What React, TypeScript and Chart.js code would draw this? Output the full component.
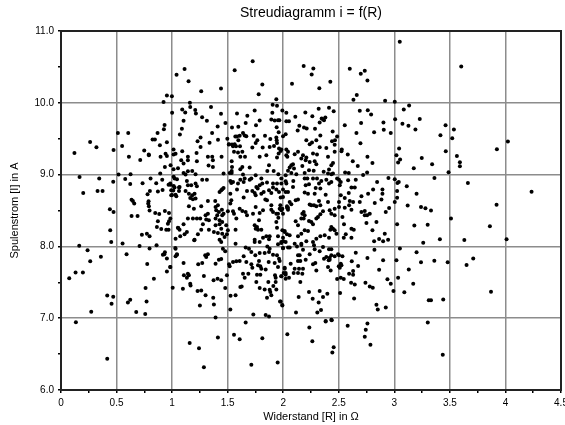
import React, { useEffect, useRef } from "react";
import { Chart, registerables } from "chart.js";

Chart.register(...registerables);

const chartTitle = "Streudiagramm i = f(R)";
const xTitle = "Widerstand [R] in Ω";
const yTitle = "Spulenstrom [I] in A";
const yTickLabels = ["6.0", "7.0", "8.0", "9.0", "10.0", "11.0"];

// [R, i] pairs
const messwerte: [number, number][] = [
[1.112,10.47],[1.04,10.39],[1.148,10.3],[1.262,10.16],[1.44,10.2],[.953,10.1],[.998,10.09],[.923,10.01],[1.16,10.0],[1.163,9.94],[1.091,9.906],[1.118,9.865],[1.208,9.9],[1.214,9.85],[1.35,9.94],[1.44,9.846],[1.0,9.86],[1.27,9.8],[1.313,9.75],[1.103,9.75],[.932,9.69],[.926,9.63],[1.088,9.64],[.869,9.58],[1.07,9.56],[.512,9.58],[.605,9.58],[1.48,9.72],[1.41,9.67],[1.36,9.58],[.824,9.49],[.845,9.49],[.953,9.45],[.89,9.41],[1.256,9.515],[1.229,9.465],[1.256,9.385],[1.337,9.445],[1.413,9.487],[1.497,9.5],[1.51,9.42],[.262,9.455],[.319,9.38],[.473,9.344],[.55,9.4],[.121,9.3],[.749,9.335],[.79,9.28],[.941,9.29],[1.013,9.35],[1.013,9.28],[1.031,9.29],[1.091,9.325],[1.22,9.3],
[.611,9.247],[.791,9.27],[.713,9.205],[.896,9.247],[.953,9.26],[.986,9.13],[.935,9.107],[1.053,9.09],[.893,9.015],[.167,8.968],[.344,8.945],[.518,9.0],[.626,9.005],[.47,8.9],[.578,8.94],[.623,8.87],[.734,8.88],[.806,8.945],[.857,8.88],[.911,8.93],[1.014,8.97],[1.044,8.935],[.2,8.745],[.329,8.773],[.374,8.773],[.968,8.86],[.986,8.86],[1.014,8.84],[1.062,8.82],[.8,8.773],[.779,8.726],[.872,8.763],[.914,8.786],[1.01,8.78],[1.0,8.717],[1.038,8.7],[1.062,8.773],[.635,8.65],[.647,8.633],[.659,8.596],[.788,8.63],[.785,8.596],[.791,8.56],[.797,8.5],[.44,8.517],[.473,8.48],[.848,8.466],[.884,8.452],[.935,8.494],[.972,8.466],[.984,8.39],[.635,8.424],[.689,8.424],[.872,8.35],[.972,8.35],[.962,8.317],[.863,8.27],[.902,8.242],[.947,8.233],[.968,8.233],[1.056,8.256],[.443,8.224],[.728,8.163],[.773,8.177],[.797,8.14],[1.031,8.107],
[.164,8.01],[.452,8.06],[.554,8.04],[.707,8.006],[.86,8.015],[1.029,7.978],[.239,7.945],[.797,7.97],[.59,7.89],[.359,7.857],[.263,7.792],[.917,7.885],[.935,7.918],[.93,7.89],[.953,7.83],[1.044,7.885],[1.031,7.862],[.776,7.755],[.984,7.713],[.953,7.652],[.131,7.638],[.197,7.638],[.074,7.555],[.836,7.55],[.761,7.42],[1.005,7.425],[.416,7.317],[.47,7.3],[.455,7.2],[.623,7.257],[.602,7.22],[.77,7.234],[.272,7.09],[.677,7.085],[.758,7.057],[.134,6.945],[.416,6.435],[1.158,6.653],[1.242,6.583],
[1.286,6.318],[1.412,6.732],[1.557,6.769],[1.608,6.708],[1.713,6.35],[1.812,6.722],[1.95,6.383],[2.037,6.778],[2.235,6.871],[2.262,6.68],[2.382,6.955],[2.437,6.97],[2.58,6.895],[2.758,6.927],[2.743,6.839],[2.734,6.741],[2.785,6.63],[2.454,6.597],[2.442,6.522],[3.436,6.49],[3.301,6.94],[1.662,6.94],
[1.725,10.58],[1.563,10.455],[1.812,10.255],[1.779,10.12],[1.938,10.05],[1.905,9.972],[1.944,9.958],[1.584,9.85],[1.677,9.818],[1.743,9.893],[1.662,9.72],[1.788,9.753],[1.755,9.688],[1.539,9.655],[1.596,9.665],[1.902,9.86],[1.992,9.893],[2.028,9.86],[1.893,9.767],[1.923,9.753],[1.953,9.758],[1.965,9.758],[2.028,9.744],[2.052,9.744],[1.941,9.66],[1.959,9.59],[2.022,9.563],[1.836,9.54],[1.734,9.54],[1.638,9.58],[1.653,9.544],[1.668,9.535],[1.569,9.53],[1.584,9.53],[1.608,9.54],[1.596,9.479],[1.512,9.423],[1.539,9.418],[1.563,9.423],[1.548,9.395],[1.575,9.395],[1.611,9.395],[1.722,9.376],[1.767,9.479],[1.752,9.44],[1.815,9.376],[1.878,9.386],[1.884,9.497],[1.917,9.4],[1.938,9.516],[1.941,9.479],[1.998,9.535],[1.962,9.362],[1.983,9.348],[1.944,9.44],
[1.142,9.247],[1.082,9.2],[1.103,9.154],[1.142,9.2],[1.223,9.187],[1.322,9.247],[1.361,9.247],[1.367,9.2],[1.328,9.126],[1.367,9.107],[1.445,9.247],[1.557,9.317],[1.593,9.307],[1.632,9.317],[1.614,9.247],[1.656,9.247],[1.536,9.187],[1.788,9.247],[1.848,9.27],[1.959,9.293],[1.977,9.33],[1.944,9.238],[2.037,9.247],[1.872,9.13],[1.539,9.107],[1.536,9.05],[1.632,9.107],[1.614,9.075],[1.698,9.098],[1.013,9.075],[1.103,9.024],[1.121,9.0],[1.142,9.047],[1.181,9.05],[1.211,9.005],[1.463,9.015],[1.518,9.024],[1.536,9.024],[1.752,8.99],[1.857,9.05],[1.914,9.05],[1.956,9.005],[2.022,8.99],[1.638,9.0],[1.022,8.945],[.983,8.875],[1.067,8.828],[1.133,8.912],[1.022,8.82],[1.121,8.773],[1.142,8.85],[1.172,8.85],[1.211,8.875],[1.223,8.838],[1.271,8.93],[1.313,8.93],[1.524,8.912],[1.548,8.898],[1.533,8.884],[1.593,8.875],[1.614,8.93],[1.653,8.945],[1.698,8.93],[1.713,8.945],[1.644,8.898],[1.803,8.945],[1.758,8.828],[1.812,8.875],[1.854,8.889],[1.908,8.875],[1.944,8.875],[1.983,8.945],[1.983,8.875],[2.022,8.907],[.992,8.782],[.992,8.712],[1.031,8.72],[1.151,8.735],[1.181,8.712],[1.202,8.735],[1.211,8.666],[1.163,8.675],[1.187,8.656],[1.427,8.759],[1.463,8.815],[1.442,8.782],[1.451,8.796],[1.584,8.791],[1.674,8.773],[1.722,8.773],[1.77,8.805],[1.788,8.852],[1.743,8.745],[1.752,8.712],[1.803,8.735],[1.824,8.759],[1.872,8.782],[1.893,8.745],[1.908,8.82],[1.938,8.791],[1.962,8.759],[1.998,8.791],[2.043,8.759],[1.977,8.68],[1.524,8.735],[1.533,8.642],[1.524,8.596],[1.322,8.633],[1.388,8.633],[1.644,8.68],[1.839,8.652],[1.854,8.642],[1.151,8.558],[1.196,8.526],[1.262,8.558],[1.391,8.55],[1.412,8.573],[1.397,8.503],[1.421,8.48],[1.448,8.512],[1.463,8.456],[1.451,8.433],[1.406,8.433],[1.502,8.489],[1.548,8.489],[1.557,8.456],[1.578,8.387],[1.608,8.526],[1.632,8.493],[1.662,8.48],[1.674,8.433],[1.728,8.456],[1.788,8.466],[1.752,8.55],[1.818,8.503],[1.893,8.512],[1.908,8.48],[1.893,8.573],[1.974,8.573],[1.968,8.526],[1.983,8.503],[1.953,8.456],[1.938,8.456],[1.998,8.456],[2.034,8.54],[2.043,8.512],[1.187,8.387],[1.223,8.387],[1.253,8.387],[1.301,8.433],[1.322,8.456],[1.307,8.373],[1.331,8.363],[1.391,8.387],[1.451,8.34],[1.427,8.363],[1.142,8.387],[1.782,8.363],[1.956,8.4],[1.938,8.34],[1.103,8.307],[1.052,8.26],[1.067,8.233],[1.112,8.168],[1.073,8.14],[1.277,8.307],[1.262,8.233],[1.232,8.168],[1.202,8.093],[1.133,8.2],[1.391,8.293],[1.331,8.233],[1.376,8.2],[1.427,8.307],[1.442,8.247],[1.412,8.187],[1.487,8.293],[1.502,8.224],[1.451,8.177],[1.571,8.233],[1.743,8.293],[1.752,8.247],[1.773,8.233],[1.803,8.233],[1.764,8.27],[1.944,8.26],[2.013,8.214],[2.034,8.168],[1.848,8.14],[1.878,8.14],[1.818,8.12],[1.872,8.098],[1.953,8.14],[1.998,8.12],[1.493,8.168],[1.472,8.13],[1.743,8.093],[1.427,8.093],
[1.031,7.969],[1.043,7.89],[1.103,7.769],[.983,7.713],[1.298,7.876],[1.322,7.89],[1.307,7.852],[1.421,7.815],[1.442,7.825],[1.391,7.76],[1.235,7.75],[1.271,7.769],[1.442,8.062],[1.457,7.969],[1.478,7.932],[1.199,8.085],[1.571,8.038],[1.662,7.983],[1.692,7.969],[1.713,7.922],[1.644,7.862],[1.749,7.876],[1.788,7.908],[1.833,7.908],[1.872,7.922],[1.857,8.0],[1.878,7.969],[1.908,7.885],[1.944,7.876],[1.962,7.829],[1.968,7.797],[1.788,8.062],[1.743,8.062],[1.953,8.029],[1.983,8.062],[1.998,7.978],[2.043,7.983],[1.512,7.75],[1.518,7.722],[1.548,7.783],[1.578,7.792],[1.608,7.797],[1.668,7.783],[1.713,7.75],[1.722,7.704],[1.782,7.797],[1.773,7.736],[1.794,7.722],[1.803,7.69],[1.842,7.68],[1.869,7.783],[1.923,7.769],[1.953,7.713],[2.013,7.69],[1.106,7.597],[1.142,7.62],[1.151,7.597],[1.133,7.564],[1.286,7.587],[1.493,7.597],[1.638,7.62],[1.653,7.564],[1.686,7.62],[1.764,7.606],[1.794,7.606],[1.926,7.597],[1.932,7.564],[1.983,7.583],[2.022,7.629],[2.052,7.564],[1.373,7.527],[1.409,7.55],[1.442,7.527],[1.758,7.504],[1.866,7.504],[1.932,7.504],[1.163,7.48],[1.166,7.457],[1.097,7.41],[1.478,7.42],[1.626,7.443],[1.614,7.434],[1.788,7.42],[1.833,7.4],[1.878,7.397],[1.884,7.364],[1.911,7.448],[1.938,7.4],[1.229,7.378],[1.262,7.387],[1.301,7.318],[1.37,7.285],[1.376,7.192],[1.25,7.178],[1.526,7.313],[1.571,7.318],[1.854,7.285],[1.893,7.318],[1.971,7.234],[1.992,7.178],[1.524,7.122],[1.731,7.052],[1.842,7.043],[1.872,7.025],[1.391,7.01],
[2.184,10.511],[2.271,10.479],[2.256,10.395],[2.079,10.265],[2.325,10.204],[2.424,10.293],[2.599,10.474],[2.698,10.404],[2.734,10.446],[2.758,10.311],[2.662,10.107],[2.632,10.041],[2.917,10.027],[3.004,10.014],[2.319,9.916],[2.412,9.93],[2.454,9.883],[2.199,9.865],[2.262,9.814],[2.109,9.804],[2.689,9.888],[2.761,9.897],[2.791,9.837],[2.379,9.795],[2.358,9.772],[2.346,9.781],[2.367,9.758],[2.328,9.725],[2.145,9.679],[2.187,9.655],[2.211,9.642],[2.13,9.614],[2.286,9.637],[2.445,9.6],[2.334,9.544],[2.485,9.53],[2.554,9.688],[2.701,9.72],[2.902,9.725],[3.007,9.772],[2.905,9.623],[2.968,9.581],[2.818,9.59],[2.659,9.581],[2.695,9.437],[2.208,9.479],[2.439,9.465],[2.466,9.479],[2.298,9.479],[2.238,9.423],[2.259,9.446],[2.463,9.414],[2.328,9.381],[2.388,9.372],[2.527,9.348],[3.043,9.362],[2.028,9.348],
[2.028,9.27],[2.043,9.317],[2.103,9.284],[2.133,9.317],[2.178,9.27],[2.208,9.238],[2.268,9.293],[2.304,9.28],[2.202,9.2],[2.163,9.224],[2.172,9.121],[2.238,9.177],[2.283,9.187],[2.298,9.145],[2.403,9.247],[2.448,9.163],[2.433,9.131],[2.463,9.317],[2.524,9.326],[2.581,9.28],[2.626,9.187],[2.758,9.247],[2.803,9.163],[2.671,9.121],[3.034,9.168],[2.088,9.145],[2.073,9.13],[2.058,9.098],[2.097,9.084],[2.043,9.052],[2.274,9.052],[2.232,9.061],[2.412,9.07],[2.403,9.014],[2.073,9.024],[2.118,9.005],[2.193,9.024],[2.364,9.038],[2.433,9.005],[2.448,9.014],[2.557,9.028],[2.59,9.024],[2.719,8.996],[2.755,9.028],[2.091,8.912],[2.028,8.875],[2.022,8.759],[2.193,8.945],[2.217,8.945],[2.202,8.852],[2.232,8.866],[2.268,8.945],[2.088,8.828],[2.322,8.875],[2.343,8.912],[2.304,8.945],[2.292,8.814],[2.412,8.875],[2.433,8.898],[2.388,8.93],[2.485,8.945],[2.509,8.852],[2.518,8.898],[2.502,8.93],[2.584,8.921],[2.653,8.93],[2.614,8.819],[2.644,8.819],[2.59,8.745],[2.704,8.698],[2.764,8.735],[2.809,8.791],[2.845,8.898],[2.947,8.954],[3.004,8.935],[3.04,8.898],[2.893,8.791],[2.893,8.735],[3.025,8.773],[2.193,8.749],[2.223,8.735],[2.283,8.735],[2.334,8.805],[2.382,8.721],[2.518,8.712],[1.998,8.689],[2.133,8.652],[2.112,8.642],[2.058,8.619],[2.073,8.587],[2.043,8.54],[1.992,8.526],[2.034,8.559],[2.238,8.582],[2.253,8.573],[2.277,8.573],[2.298,8.559],[2.322,8.633],[2.403,8.619],[2.334,8.573],[2.502,8.619],[2.554,8.675],[2.599,8.633],[2.629,8.619],[2.689,8.619],[2.593,8.573],[2.614,8.512],[2.463,8.526],[2.502,8.55],[2.554,8.54],[2.824,8.605],[2.884,8.652],[3.004,8.619],[2.953,8.535],[2.923,8.48],[2.704,8.48],[2.734,8.494],[2.734,8.433],[2.755,8.433],[2.779,8.456],[2.418,8.503],[2.433,8.456],[2.463,8.433],[2.358,8.489],[2.334,8.447],[2.313,8.41],[2.184,8.48],[2.172,8.456],[2.193,8.433],[2.163,8.387],[2.184,8.387],[2.112,8.349],[2.133,8.293],[2.232,8.354],[2.253,8.34],[2.268,8.307],[2.433,8.27],[2.448,8.247],[2.424,8.233],[2.463,8.224],[2.298,8.387],[2.533,8.41],[2.547,8.307],[2.614,8.247],[2.635,8.233],[2.749,8.326],[2.839,8.34],[2.803,8.224],[2.914,8.177],[3.025,8.307],[2.223,8.214],[2.193,8.224],[2.163,8.177],[2.133,8.14],[2.058,8.154],[2.013,8.2],[1.992,8.224],[2.334,8.14],[2.373,8.154],[2.298,8.107],[2.412,8.121],[2.479,8.177],[2.563,8.168],[2.545,8.121],[2.614,8.121],[2.863,8.103],[2.944,8.094],
[2.0,8.07],[1.983,8.048],[2.022,8.062],[2.103,8.038],[2.163,8.038],[2.208,8.071],[2.268,8.062],[2.277,8.015],[1.998,7.973],[2.058,7.983],[2.124,8.0],[2.163,8.02],[2.358,7.992],[2.412,7.959],[2.433,7.959],[2.178,7.955],[2.283,7.959],[2.328,7.932],[2.818,8.071],[2.899,8.071],[2.821,7.955],[2.653,7.913],[2.238,7.89],[2.133,7.876],[2.148,7.876],[2.367,7.829],[2.388,7.852],[2.418,7.843],[2.433,7.876],[2.463,7.862],[2.493,7.89],[2.502,7.876],[2.533,7.862],[2.758,7.838],[2.202,7.815],[2.154,7.797],[2.133,7.797],[2.409,7.806],[2.418,7.815],[2.617,7.792],[2.899,7.806],[3.019,7.806],[2.067,7.76],[2.268,7.75],[2.289,7.769],[2.403,7.713],[2.427,7.666],[2.5,7.722],[2.518,7.76],[2.509,7.704],[2.524,7.736],[2.674,7.727],[2.863,7.676],[2.013,7.704],[2.103,7.69],[2.142,7.69],[2.178,7.69],[2.298,7.666],[2.094,7.629],[2.133,7.629],[2.172,7.62],[2.004,7.629],[2.593,7.62],[2.629,7.657],[2.629,7.606],[1.983,7.583],[2.022,7.55],[2.022,7.606],[2.485,7.545],[2.518,7.564],[2.545,7.545],[3.034,7.564],[2.154,7.504],[2.938,7.541],[2.968,7.48],[2.992,7.378],[2.74,7.494],[2.779,7.443],[2.806,7.425],[2.611,7.494],[2.644,7.471],[2.232,7.364],[2.328,7.378],[2.397,7.341],[2.139,7.294],[2.512,7.35],[2.358,7.294],[2.265,7.271],[2.319,7.22],[2.638,7.276],[2.839,7.187],[2.851,7.122],[2.923,7.15],[1.977,7.234],[1.992,7.183],[2.115,7.08],[2.307,7.08],[2.34,7.113],[2.382,6.96],[2.433,6.978],
[3.049,10.851],[3.602,10.507],[3.133,9.962],[3.085,9.906],[3.229,9.776],[3.073,9.707],[3.127,9.679],[3.19,9.627],[3.461,9.688],[3.536,9.627],[3.415,9.548],[3.521,9.506],[3.019,9.269],[3.052,9.209],[3.175,9.088],[3.247,9.232],[3.34,9.144],[3.463,9.325],[3.563,9.26],[3.59,9.172],[3.59,9.116],[3.488,9.032],[3.361,8.953],[3.662,8.883],[3.923,9.353],[4.022,9.46],[4.235,8.762],[3.028,8.883],[3.112,8.837],[3.2,8.735],[3.025,8.679],
[3.12,8.57],[3.24,8.55],[3.28,8.53],[3.33,8.5],[3.51,8.39],[3.44,7.26],[3.31,7.25],[3.33,7.25],[3.36,7.8],[3.48,7.78],[3.63,8.09],[3.65,7.74],[3.71,7.83],[3.86,8.28],[3.92,8.58],[3.87,7.37],[4.01,8.1],[3.24,7.78],[3.2,7.92],[3.18,8.29],[3.05,7.97],[3.13,7.68],[3.17,7.48],[3.09,7.36],[3.3,8.3],[3.41,8.1],[3.26,8.05],
];

export default function App() {
  const ref = useRef<HTMLCanvasElement>(null);
  useEffect(() => {
    if (!ref.current) return;
    const frame = {
      id: "frame",
      afterDatasetsDraw(c: any) {
        const { ctx, chartArea: a } = c;
        ctx.save();
        ctx.strokeStyle = "#222";
        ctx.lineWidth = 2;
        ctx.strokeRect(a.left, a.top, a.right - a.left, a.bottom - a.top);
        ctx.restore();
      },
    };
    const font = { family: "'Liberation Sans', Arial, sans-serif", size: 10 };
    const chart = new Chart(ref.current, {
      type: "scatter",
      data: {
        datasets: [
          {
            data: messwerte.map(([x, y]) => ({ x, y })),
            backgroundColor: "#000",
            borderWidth: 0,
            pointRadius: 2,
            clip: false,
          } as any,
        ],
      },
      options: {
        animation: false,
        responsive: false,
        layout: { autoPadding: false, padding: { left: 0, right: 4, top: 0, bottom: 0 } },
        plugins: {
          legend: { display: false },
          tooltip: { enabled: false },
          title: {
            display: true,
            fullSize: false,
            text: chartTitle,
            color: "#000",
            font: { family: font.family, size: 14, weight: "normal" },
            padding: { top: 5, bottom: 9.2 },
          },
        },
        scales: {
          x: {
            type: "linear",
            min: 0,
            max: 4.5,
            afterFit: (s: any) => { s.height = 35; s.paddingLeft = 0; s.paddingRight = 0; },
            title: { display: true, text: xTitle, color: "#000", font: { ...font, size: 11 }, padding: { top: 0, bottom: 1 } },
            grid: {
              color: (c: any) => (Number.isInteger((c.tick?.value ?? 0) * 2) ? "#8c8c8c" : "transparent"),
              tickColor: "#000",
              lineWidth: 1.5,
              tickLength: 3,
            },
            border: { display: false },
            ticks: {
              stepSize: 0.25,
              autoSkip: false,
              maxRotation: 0,
              color: "#000",
              font,
              padding: 4,
              callback: (v: any) => (Number.isInteger(Number(v) * 2) ? String(v) : ""),
            },
          },
          y: {
            type: "linear",
            min: 6,
            max: 11,
            afterFit: (s: any) => { s.width = 61; },
            title: { display: true, text: yTitle, color: "#000", font: { ...font, size: 11 }, padding: { top: 8, bottom: 0 } },
            grid: {
              color: (c: any) => (Number.isInteger(c.tick?.value ?? 0) ? "#8c8c8c" : "transparent"),
              tickColor: "#000",
              lineWidth: 1.5,
              tickLength: 3,
            },
            border: { display: false },
            ticks: {
              stepSize: 0.5,
              autoSkip: false,
              color: "#000",
              font,
              padding: 4,
              callback: (v: any) => {
                const n = Number(v);
                return Number.isInteger(n) ? yTickLabels[n - 6] : "";
              },
            },
          },
        },
      },
      plugins: [frame],
    } as any);
    return () => chart.destroy();
  }, []);
  return (
    <div style={{ position: "fixed", left: 0, top: 0, width: 565, height: 425, background: "#fff" }}>
      <canvas ref={ref} width={565} height={425} style={{ display: "block" }} />
    </div>
  );
}
